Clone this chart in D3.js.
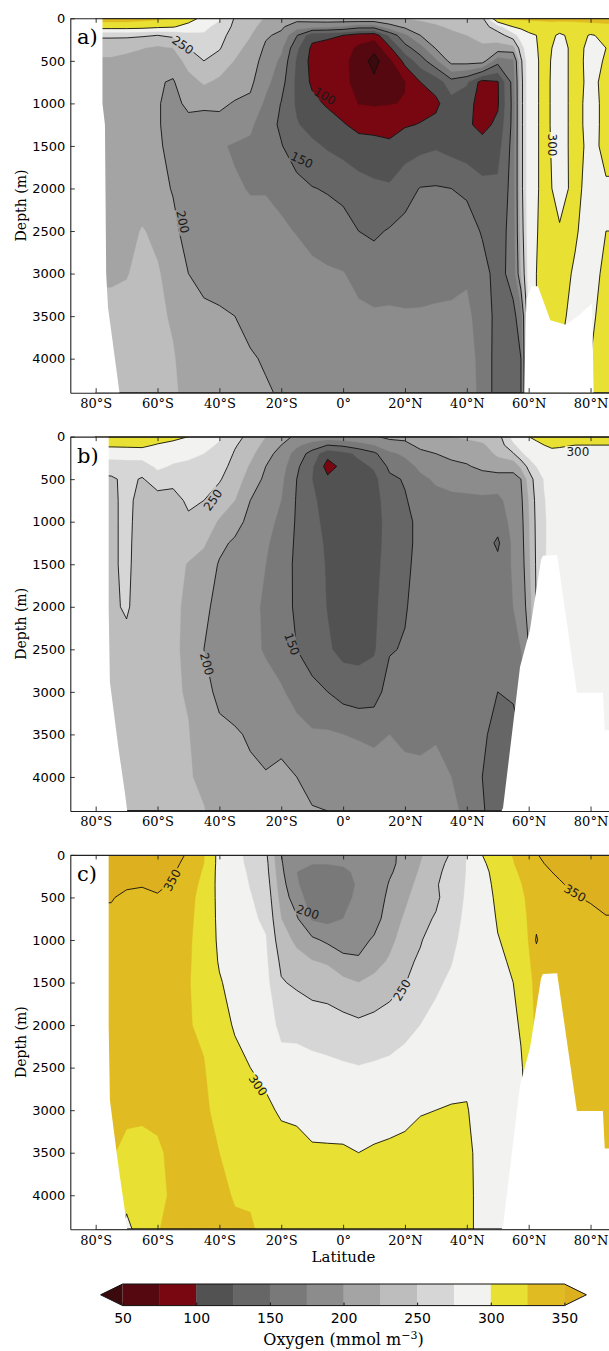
<!DOCTYPE html>
<html>
<head>
<meta charset="utf-8">
<script src="https://cdnjs.cloudflare.com/ajax/libs/d3/7.8.5/d3.min.js"></script>
<style>
html,body{margin:0;padding:0;background:#fff;}
svg{display:block;}
</style>
</head>
<body>
<svg id="fig" width="609" height="1351" xmlns="http://www.w3.org/2000/svg"></svg>
<script>
// ---------------- DATA ----------------
const latitudes = [-80,-75,-70,-65,-60,-55,-50,-45,-40,-35,-30,-25,-20,-15,-10,-5,0,5,10,15,20,25,30,35,40,45,50,55,57.5,60,62.5,65,67.5,70,75,80,85,90];
const depths = [0,100,200,350,500,750,1000,1250,1500,2000,2500,3000,3500,4000,4400];
const bandEdges = [50,75,100,125,150,175,200,225,250,275,300,325,350];
const bandColors = ["#3b0a0c","#55080f","#780712","#525252","#666666","#797979","#8c8c8c","#a4a4a4","#bdbdbd","#d6d6d6","#f2f2f0","#e8e133","#e0bb22","#dcb01e"];
const lineLevels = [50,100,150,200,250,300,350];
const colorbarTicks = [50,100,150,200,250,300,350];
const latTicks = [-80,-60,-40,-20,0,20,40,60,80];
const depthTicks = [0,500,1000,1500,2000,2500,3000,3500,4000];
const panelLetters = ["a)","b)","c)"];

// oxygen profiles (one per latitude, values at each depth)
const oxygenA = [
[335,312,255,232,222,214,212,212,212,212,215,222,231,233,233],
[335,312,255,232,222,214,212,212,212,212,215,222,231,233,233],
[335,312,255,230,218,210,209,209,209,210,214,224,231,233,233],
[332,310,253,226,213,206,206,206,207,208,227,230,231,232,232],
[330,305,250,220,208,202,201,201,202,205,218,228,230,231,231],
[322,302,255,225,210,198,196,196,196,199,204,212,222,227,228],
[312,290,268,250,235,215,203,196,192,191,194,200,206,214,219],
[292,280,272,262,250,228,203,194,190,188,190,196,203,210,214],
[278,268,260,252,240,220,205,192,177,179,184,194,202,207,210],
[248,244,238,232,224,212,198,185,173,177,183,193,200,204,206],
[240,234,226,218,211,205,195,180,170,174,180,190,197,201,204],
[222,212,203,196,191,182,170,158,160,174,180,188,195,199,201],
[212,204,195,180,170,160,149,147,151,170,178,186,193,197,199],
[210,185,152,130,122,119,121,127,140,156,174,183,190,195,198],
[215,180,108,95,92,96,106,116,130,151,168,180,188,194,197],
[218,178,105,90,85,88,97,110,122,148,162,178,187,193,196],
[220,172,100,86,80,80,88,102,115,145,157,176,186,192,195],
[225,160,88,70,66,68,74,93,110,135,150,168,180,188,192],
[225,160,85,58,40,56,72,92,108,130,146,163,178,187,191],
[222,190,130,95,69,66,74,88,106,128,152,166,178,186,190],
[225,205,170,140,108,74,76,98,112,142,156,166,177,185,189],
[228,218,200,165,138,100,92,101,118,151,158,167,177,185,189],
[232,222,210,202,170,110,95,106,122,152,160,168,178,185,189],
[236,228,220,214,210,140,115,110,116,150,160,170,178,185,189],
[240,232,225,218,212,128,110,104,110,146,160,172,180,186,189],
[245,238,230,222,212,90,88,93,108,132,148,158,164,166,166],
[328,265,238,215,160,98,97,105,115,130,138,142,142,140,140],
[330,300,265,215,170,160,158,158,160,160,160,158,145,138,135],
[330,305,285,265,245,240,240,240,240,240,235,225,160,150,150],
[330,310,295,290,290,290,290,290,290,290,288,285,280,280,280],
[330,312,300,298,296,296,296,296,296,296,298,300,300,300,300],
[330,315,310,310,310,310,310,310,310,310,310,310,305,300,300],
[330,318,305,300,298,297,297,297,298,300,305,308,305,300,300],
[330,316,295,290,290,290,290,290,290,292,302,306,303,300,300],
[330,318,310,308,308,308,308,308,308,306,302,298,296,296,296],
[332,318,298,294,293,294,292,292,294,292,292,292,295,300,305],
[333,320,305,300,302,306,306,306,305,298,300,305,310,310,310],
[333,320,305,300,302,306,306,306,305,298,300,305,310,310,310]
];
const oxygenB = [
[312,304,285,262,246,245,245,245,245,244,240,234,232,231,231],
[312,304,285,262,246,245,245,245,245,244,240,234,232,231,231],
[314,305,285,265,256,256,256,256,256,254,240,234,232,231,231],
[314,305,288,262,248,242,240,238,236,234,232,230,230,230,230],
[312,298,290,280,262,240,236,234,232,230,229,228,228,228,228],
[305,295,285,272,258,240,232,230,230,229,228,228,228,228,228],
[300,290,280,270,262,255,245,232,224,221,221,223,226,227,228],
[290,282,275,265,258,250,240,228,215,205,200,204,212,220,226],
[278,272,265,258,252,240,222,206,198,193,193,197,203,210,214],
[256,252,248,243,238,225,210,196,190,186,186,192,202,206,208],
[245,240,232,222,213,200,192,186,182,180,180,188,198,203,205],
[225,216,208,200,195,188,182,178,175,172,173,182,195,201,203],
[210,200,192,185,180,175,170,165,160,158,162,178,196,203,206],
[195,180,165,155,150,148,147,146,146,147,150,165,185,200,203],
[190,165,140,128,125,128,130,132,134,136,140,156,178,195,201],
[190,150,108,90,105,118,120,122,123,124,128,150,178,195,200],
[192,155,118,107,110,112,113,114,115,116,118,140,175,193,198],
[195,165,130,118,112,112,113,114,115,116,118,136,172,192,197],
[198,175,145,128,118,115,115,116,117,119,122,140,168,190,196],
[205,190,170,155,145,138,134,134,136,142,148,160,175,188,195],
[205,195,180,165,152,148,145,145,146,148,152,158,170,182,190],
[215,205,195,180,170,160,155,155,156,160,162,165,172,178,185],
[222,212,200,190,178,168,163,162,163,165,167,170,174,178,182],
[225,215,205,195,182,170,165,164,165,167,168,170,172,175,178],
[228,218,208,198,185,170,165,164,165,166,166,166,168,170,172],
[232,222,212,205,190,170,164,162,160,160,160,158,155,150,152],
[240,235,230,210,190,168,160,146,156,158,160,150,140,140,140],
[285,270,248,205,195,188,183,180,178,175,168,152,145,140,140],
[292,285,270,230,200,195,192,190,188,185,175,155,150,150,150],
[300,295,285,258,235,225,222,220,218,210,200,190,180,180,180],
[302,298,290,275,262,258,256,255,254,252,250,250,250,250,250],
[305,300,292,282,276,274,273,273,273,272,272,272,272,272,272],
[308,303,295,285,280,280,280,280,282,282,282,282,282,282,282],
[308,302,295,288,284,283,283,283,283,283,283,283,283,283,283],
[306,300,295,290,288,287,287,287,287,287,287,287,287,287,287],
[306,300,295,290,288,287,287,287,287,287,287,287,287,287,287],
[306,300,295,290,288,287,287,287,287,287,287,287,287,287,287],
[306,300,295,290,288,287,287,287,287,287,287,287,287,287,287]
];
const oxygenC = [
[365,360,356,353,351,347,344,340,338,335,333,330,327,324,322],
[365,360,356,353,351,347,344,340,338,335,333,330,327,324,322],
[362,358,355,352,347,343,341,339,337,335,332,329,320,312,290],
[362,358,355,351,346,342,340,338,337,335,332,329,318,315,318],
[360,357,354,352,349,342,339,337,336,334,331,328,323,320,324],
[356,354,352,349,344,339,337,335,334,332,330,328,328,328,330],
[348,345,340,336,332,330,328,327,326,326,328,330,330,330,330],
[326,325,322,318,316,315,315,316,318,322,326,328,330,330,330],
[292,292,292,293,294,295,296,298,302,308,314,320,325,328,330],
[282,282,283,284,285,287,288,290,292,298,306,314,320,324,327],
[268,270,272,274,276,278,280,283,286,292,300,308,316,322,328],
[255,258,260,264,268,272,276,279,282,288,296,303,310,314,318],
[200,202,205,210,215,225,235,245,252,268,285,298,306,310,312],
[185,180,175,178,186,203,220,233,246,268,284,297,305,310,312],
[182,176,165,160,162,172,205,226,240,264,282,294,302,308,310],
[182,176,165,158,160,168,195,222,238,262,280,293,302,307,309],
[185,178,170,165,168,175,190,206,232,258,278,292,302,306,308],
[190,185,180,178,180,185,192,203,225,255,276,290,300,305,307],
[192,188,185,183,185,190,203,215,232,258,278,292,302,306,308],
[196,195,197,202,206,212,218,228,240,262,280,294,303,307,309],
[205,207,210,215,220,228,236,244,249,268,284,296,304,308,310],
[222,225,228,233,238,244,248,254,262,275,288,299,306,309,310],
[240,242,245,248,246,252,263,268,272,280,292,300,306,309,310],
[252,256,258,260,262,266,270,274,278,284,294,301,306,308,309],
[275,276,276,277,278,280,282,284,286,290,296,301,305,306,306],
[300,296,292,290,288,286,285,285,286,288,290,292,292,292,292],
[315,312,310,307,305,302,299,296,294,293,293,293,293,293,293],
[326,324,321,318,315,310,306,303,300,296,295,295,295,295,295],
[334,332,328,324,320,315,311,308,306,302,298,296,295,295,295],
[342,340,336,332,330,328,326,322,318,312,308,306,305,305,305],
[348,346,344,340,336,342,353,336,332,331,330,330,330,330,330],
[356,350,346,342,338,336,335,334,334,333,332,332,332,332,332],
[358,354,350,345,340,337,336,335,335,334,333,333,333,333,333],
[360,357,353,348,343,338,336,335,335,334,333,333,333,333,333],
[362,359,357,354,349,340,337,336,335,334,333,333,333,333,333],
[362,360,358,356,352,345,339,337,336,335,334,333,333,333,333],
[362,361,359,357,355,349,342,338,337,336,335,334,334,334,334],
[362,361,359,357,355,349,342,338,337,336,335,334,334,334,334]
];

// land (no data) outlines, [latitude, depth]
const landA = [
  [[-95,0],[-77.8,0],[-77.8,1000],[-77,1250],[-76.6,3000],[-76,3400],[-74.5,3800],[-72.3,4400],[-95,4400]],
  [[58.6,4400],[59,3600],[59.3,3300],[61,3150],[63,3150],[65,3350],[67,3550],[72,3600],[76,3500],[80.5,3350],[81,4400]]
];
const landBC = [
  [[-95,0],[-75.8,0],[-75.8,2000],[-75.4,2880],[-72.6,3670],[-70.6,4170],[-69.8,4400],[-95,4400]],
  [[51.2,4400],[51.7,4365],[57.2,2708],[60.4,2273],[64.0,1450],[64.6,1400],[69.2,1392],[75.6,3010],[84.0,3010],[84.6,3450],[95,3450],[95,4400]]
];

// contour labels: latitude, depth, text, angle
const labelsA = [[-51.8,314,"250",35],[-5.9,913,"100",30],[-13.3,1665,"150",25],[-51.8,2393,"200",78],[67.6,1489,"300",90]];
const labelsB = [[-42.1,745,"250",-55],[-44.0,2673,"200",75],[-16.5,2438,"150",70],[75.9,181,"300",0]];
const labelsC = [[-55.3,295,"350",-62],[-11.4,671,"200",18],[19.0,1588,"250",-60],[-27.5,2706,"300",55],[75.0,448,"350",30]];

// ---------------- DRAWING ----------------
const svg = d3.select("#fig");
const plotLeft = 70.3, plotRight = 615.9, plotH = 374.4;
const panelTops = [18.3, 436.6, 854.9];
const x = d3.scaleLinear().domain([-88.2, 88.2]).range([plotLeft, plotRight]);
const n = latitudes.length, m = depths.length;
const latOfIndex = d3.scaleLinear().domain(d3.range(n)).range(latitudes).clamp(true);
const depthOfIndex = d3.scaleLinear().domain(d3.range(m)).range(depths).clamp(true);
const fmtLat = d => d === 0 ? "0°" : Math.abs(d) + "°" + (d < 0 ? "S" : "N");
const defs = svg.append("defs");

function drawPanel(idx, columns, land, labels) {
  const top = panelTops[idx];
  const y = d3.scaleLinear().domain([0, 4400]).range([top, top + plotH]);
  const clipId = "clip" + idx;
  defs.append("clipPath").attr("id", clipId).append("rect")
    .attr("x", plotLeft).attr("y", top).attr("width", plotRight - plotLeft).attr("height", plotH);

  const values = new Array(n * m);
  columns.forEach((col, i) => col.forEach((v, j) => { values[j * n + i] = v; }));
  const proj = d3.geoTransform({ point(px, py) {
    this.stream.point(x(latOfIndex(px - 0.5)), y(depthOfIndex(py - 0.5)));
  }});
  const path = d3.geoPath(proj);

  const plot = svg.append("g").attr("clip-path", `url(#${clipId})`);
  const fills = d3.contours().size([n, m]).thresholds([-1e6, ...bandEdges])(values);
  plot.append("g").selectAll("path").data(fills).join("path")
    .attr("d", path).attr("fill", (d, i) => bandColors[i])
    .attr("stroke", (d, i) => bandColors[i]).attr("stroke-width", 0.4);

  const maskId = "mask" + idx;
  const mask = defs.append("mask").attr("id", maskId).attr("maskUnits", "userSpaceOnUse")
    .attr("x", 0).attr("y", 0).attr("width", 609).attr("height", 1351);
  mask.append("rect").attr("x", 0).attr("y", 0).attr("width", 609).attr("height", 1351).attr("fill", "white");
  mask.selectAll("rect.hole").data(labels).join("rect").attr("class", "hole")
    .attr("x", -13).attr("y", -6).attr("width", 26).attr("height", 12).attr("fill", "black")
    .attr("transform", d => `translate(${x(d[0])},${y(d[1])}) rotate(${d[3]})`);

  const lines = d3.contours().size([n, m]).thresholds(lineLevels)(values);
  plot.append("g").attr("mask", `url(#${maskId})`).selectAll("path").data(lines).join("path")
    .attr("d", path).attr("fill", "none").attr("stroke", "#111").attr("stroke-width", 0.9);

  const landLine = d3.line().x(d => x(d[0])).y(d => y(d[1])).curve(d3.curveLinearClosed);
  plot.append("g").selectAll("path").data(land).join("path")
    .attr("d", landLine).attr("fill", "#fff");

  plot.append("g").selectAll("text").data(labels).join("text")
    .attr("transform", d => `translate(${x(d[0])},${y(d[1])}) rotate(${d[3]})`)
    .attr("text-anchor", "middle").attr("dy", "0.36em")
    .attr("font-family", "DejaVu Sans").attr("font-size", 12).attr("fill", "#1a1a1a")
    .text(d => d[2]);

  const axB = svg.append("g").attr("transform", `translate(0,${top + plotH})`)
    .call(d3.axisBottom(x).tickValues(latTicks).tickFormat(fmtLat).tickSizeInner(-4.5).tickSizeOuter(0).tickPadding(6));
  axB.selectAll("text").attr("font-family", "DejaVu Serif").attr("font-size", 13).attr("fill", "#000");
  const axT = svg.append("g").attr("transform", `translate(0,${top})`)
    .call(d3.axisTop(x).tickValues(latTicks).tickFormat("").tickSizeInner(-4.5).tickSizeOuter(0));
  const axL = svg.append("g").attr("transform", `translate(${plotLeft},0)`)
    .call(d3.axisLeft(y).tickValues(depthTicks).tickFormat(d3.format("d")).tickSizeInner(-4.5).tickSizeOuter(0).tickPadding(5));
  axL.selectAll("text").attr("font-family", "DejaVu Sans").attr("font-size", 13).attr("fill", "#000");
  [axB, axT, axL].forEach(a => {
    a.select(".domain").attr("stroke", "#222").attr("stroke-width", 1.1);
    a.selectAll(".tick line").attr("stroke", "#222").attr("stroke-width", 0.9);
  });

  svg.append("text").attr("x", 77).attr("y", top + 26)
    .attr("font-family", "DejaVu Serif").attr("font-size", 21).attr("fill", "#000")
    .text(panelLetters[idx]);
  svg.append("text").attr("transform", `translate(26,${top + plotH / 2}) rotate(-90)`)
    .attr("text-anchor", "middle").attr("font-family", "DejaVu Serif").attr("font-size", 14).attr("fill", "#000")
    .text("Depth (m)");
}

drawPanel(0, oxygenA, landA, labelsA);
drawPanel(1, oxygenB, landBC, labelsB);
drawPanel(2, oxygenC, landBC, labelsC);

svg.append("text").attr("x", 343.5).attr("y", 1262).attr("text-anchor", "middle")
  .attr("font-family", "DejaVu Serif").attr("font-size", 15).attr("fill", "#000").text("Latitude");

// colorbar
const cbTop = 1284, cbBot = 1305.6, cbMid = (cbTop + cbBot) / 2;
const cb = d3.scaleLinear().domain([50, 350]).range([122.6, 564.4]);
const cbg = svg.append("g");
cbg.selectAll("rect").data(d3.range(bandEdges.length - 1)).join("rect")
  .attr("x", k => cb(bandEdges[k])).attr("y", cbTop)
  .attr("width", k => cb(bandEdges[k + 1]) - cb(bandEdges[k]) + 0.4).attr("height", cbBot - cbTop)
  .attr("fill", k => bandColors[k + 1]);
cbg.append("path").attr("d", `M${cb(50)},${cbTop}L${cb(50) - 22},${cbMid}L${cb(50)},${cbBot}Z`).attr("fill", bandColors[0]);
cbg.append("path").attr("d", `M${cb(350)},${cbTop}L${cb(350) + 22},${cbMid}L${cb(350)},${cbBot}Z`).attr("fill", bandColors[bandColors.length - 1]);
cbg.append("path").attr("d", `M${cb(50)},${cbTop}L${cb(350)},${cbTop}L${cb(350) + 22},${cbMid}L${cb(350)},${cbBot}L${cb(50)},${cbBot}L${cb(50) - 22},${cbMid}Z`)
  .attr("fill", "none").attr("stroke", "#111").attr("stroke-width", 1);
const cbAx = svg.append("g").attr("transform", `translate(0,${cbBot})`)
  .call(d3.axisBottom(cb).tickValues(colorbarTicks).tickSizeInner(-3).tickSizeOuter(0).tickPadding(7));
cbAx.select(".domain").remove();
cbAx.selectAll(".tick line").attr("stroke", "#111");
cbAx.selectAll("text").attr("font-family", "DejaVu Sans").attr("font-size", 14).attr("fill", "#000");
const ot = svg.append("text").attr("x", 343.5).attr("y", 1345).attr("text-anchor", "middle")
  .attr("font-family", "DejaVu Serif").attr("font-size", 16).attr("fill", "#000");
ot.append("tspan").text("Oxygen (mmol m");
ot.append("tspan").attr("dy", -6).attr("font-size", 11).text("−3");
ot.append("tspan").attr("dy", 6).text(")");
</script>
</body>
</html>
